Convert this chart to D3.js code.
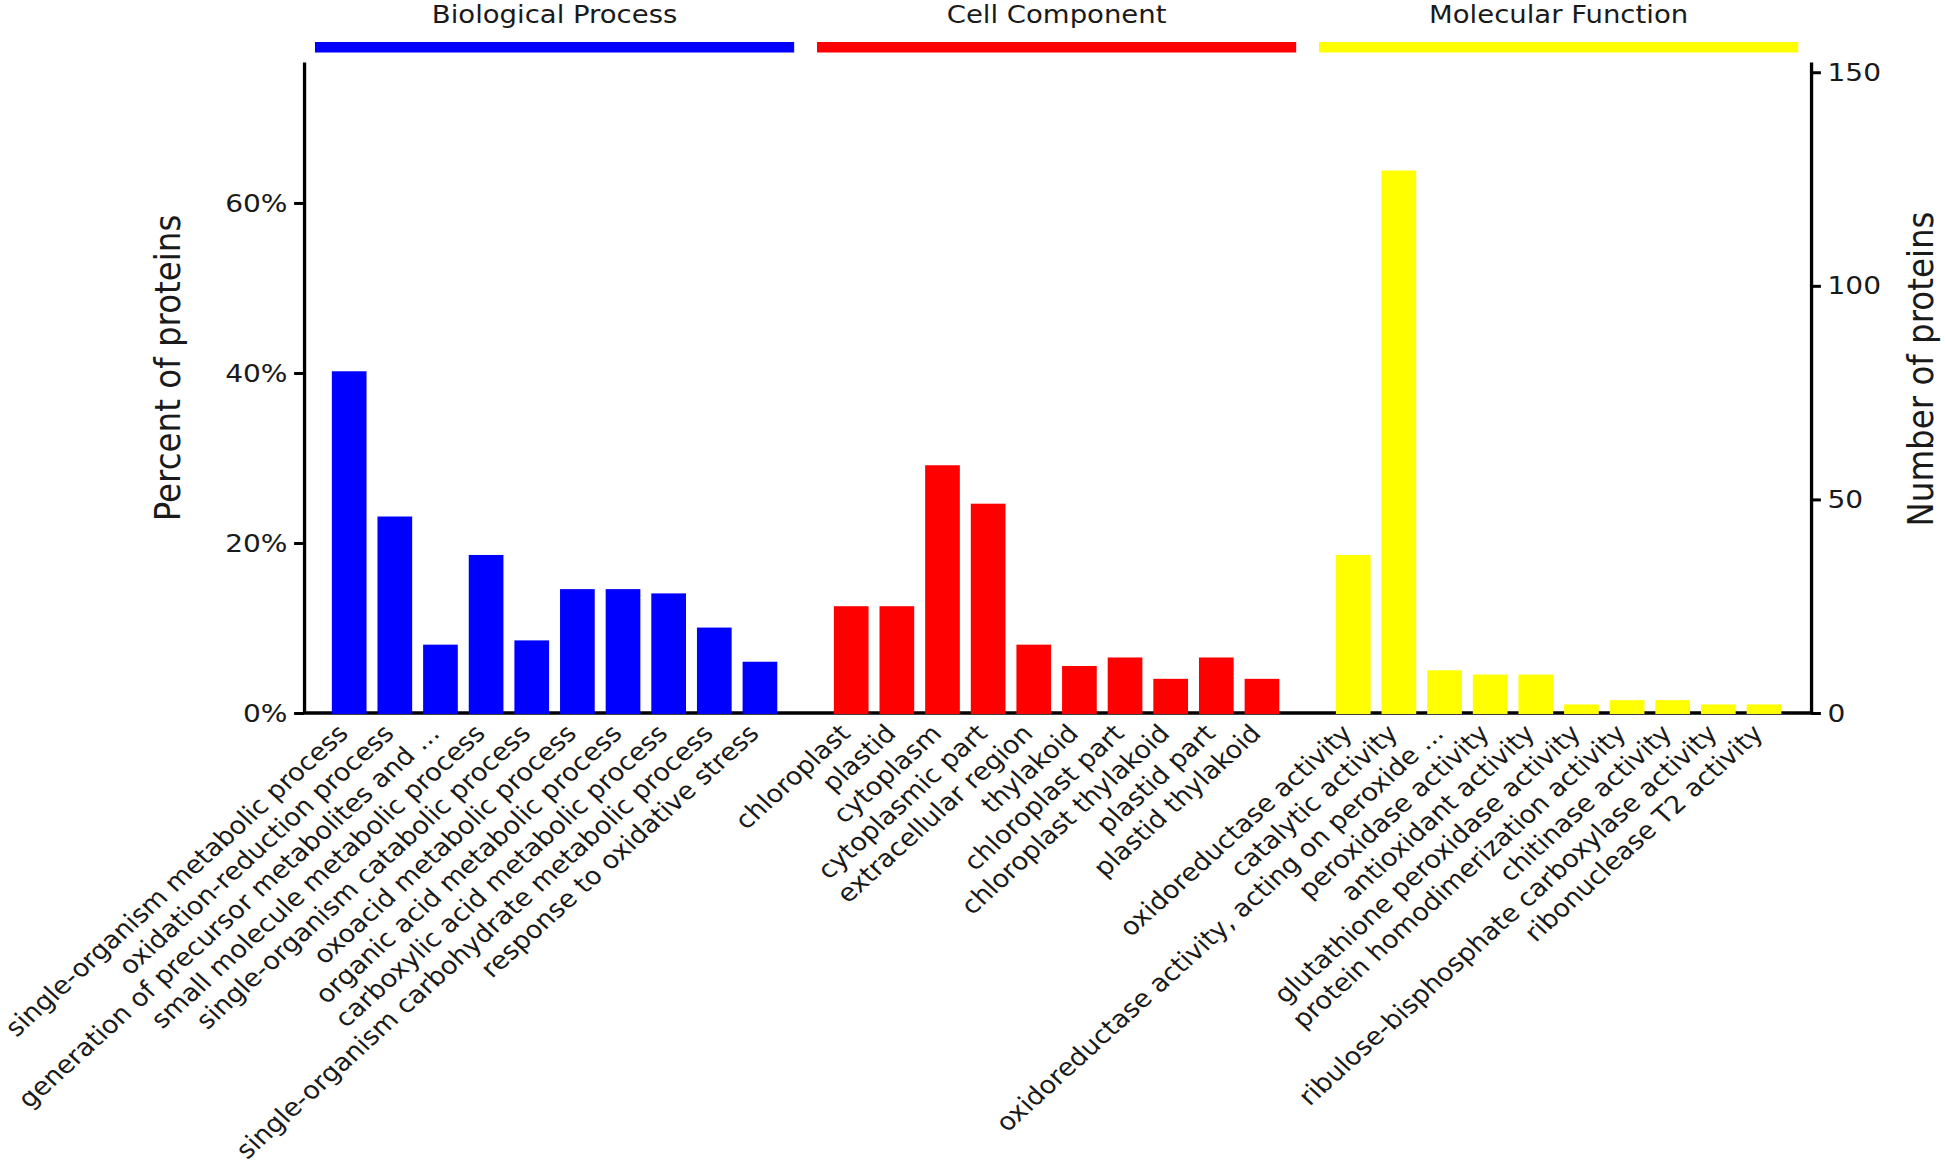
<!DOCTYPE html>
<html>
<head>
<meta charset="utf-8">
<script src="https://cdn.jsdelivr.net/npm/d3@7"></script>
<style>
  html, body { margin: 0; padding: 0; background: #fff; }
  svg { display: block; }
  text { font-family: "DejaVu Sans", sans-serif; fill: #1a1a1a; }
</style>
</head>
<body>
<div id="chart"></div>
<script>
// GO categories, one array per group
var groups = ['Biological Process', 'Cell Component', 'Molecular Function'];
var groupColors = ['#0000ff', '#ff0000', '#ffff00'];

var bpTerms = [
  'single-organism metabolic process',
  'oxidation-reduction process',
  'generation of precursor metabolites and ...',
  'small molecule metabolic process',
  'single-organism catabolic process',
  'oxoacid metabolic process',
  'organic acid metabolic process',
  'carboxylic acid metabolic process',
  'single-organism carbohydrate metabolic process',
  'response to oxidative stress'
];
var bpCounts = [80, 46, 16, 37, 17, 29, 29, 28, 20, 12];

var ccTerms = [
  'chloroplast', 'plastid', 'cytoplasm', 'cytoplasmic part', 'extracellular region',
  'thylakoid', 'chloroplast part', 'chloroplast thylakoid', 'plastid part', 'plastid thylakoid'
];
var ccCounts = [25, 25, 58, 49, 16, 11, 13, 8, 13, 8];

var mfTerms = [
  'oxidoreductase activity',
  'catalytic activity',
  'oxidoreductase activity, acting on peroxide ...',
  'peroxidase activity',
  'antioxidant activity',
  'glutathione peroxidase activity',
  'protein homodimerization activity',
  'chitinase activity',
  'ribulose-bisphosphate carboxylase activity',
  'ribonuclease T2 activity'
];
var mfCounts = [37, 127, 10, 9, 9, 2, 3, 3, 2, 2];

var totalProteins = 199;   // 100% on the left axis
var yMaxCount = 152.4;     // top of both axes, in proteins
var pctTicks = [0, 20, 40, 60];
var countTicks = [0, 50, 100, 150];

// the original figure is stretched sideways, so draw in a narrower box
var W = 1946, H = 1166, K = 1.1;
var vbW = W / K;
var leftX = 304 / K, rightX = 1811 / K;
var baseY = 713, topY = 62;

var termSets = [bpTerms, ccTerms, mfTerms];
var countSets = [bpCounts, ccCounts, mfCounts];

// one empty slot between groups
var bars = [];
termSets.forEach(function(terms, g) {
  terms.forEach(function(t, i) {
    bars.push({ term: t, count: countSets[g][i], group: g, slot: g * 11 + i });
  });
});

var svg = d3.select('#chart').append('svg')
  .attr('width', W)
  .attr('height', H)
  .attr('viewBox', '0 0 ' + vbW + ' ' + H)
  .attr('preserveAspectRatio', 'none');

var x = d3.scaleLinear().domain([-0.99, 32.03]).range([leftX, rightX]);
var yCount = d3.scaleLinear().domain([0, yMaxCount]).range([baseY, topY]);
var yPct = d3.scaleLinear().domain([0, yMaxCount / totalProteins * 100]).range([baseY, topY]);
var barW = 0.76;

// baseline
svg.append('line')
  .attr('x1', leftX).attr('x2', rightX)
  .attr('y1', baseY).attr('y2', baseY)
  .attr('stroke', '#000').attr('stroke-width', 3.5);

svg.append('g').selectAll('rect')
  .data(bars)
  .enter().append('rect')
  .attr('x', function(d) { return x(d.slot - barW / 2); })
  .attr('width', x(barW) - x(0))
  .attr('y', function(d) { return yCount(d.count); })
  .attr('height', function(d) { return yCount(0) - yCount(d.count) + 1; })
  .attr('fill', function(d) { return groupColors[d.group]; });

// category labels
svg.append('g').selectAll('text')
  .data(bars)
  .enter().append('text')
  .attr('transform', function(d) {
    return 'translate(' + (x(d.slot) + 0.5) + ',735) rotate(-45)';
  })
  .attr('text-anchor', 'end')
  .attr('font-size', 24.6)
  .text(function(d) { return d.term; });

// group headers
var heads = svg.append('g').selectAll('g')
  .data(groups)
  .enter().append('g');

heads.append('rect')
  .attr('x', function(d, g) { return x(g * 11 - 0.75); })
  .attr('width', function(d, g) { return x(g * 11 + 9.75) - x(g * 11 - 0.75); })
  .attr('y', 42)
  .attr('height', 10.5)
  .attr('fill', function(d, g) { return groupColors[g]; });

heads.append('text')
  .attr('x', function(d, g) { return x(g * 11 + 4.5); })
  .attr('y', 22.7)
  .attr('text-anchor', 'middle')
  .attr('font-size', 25)
  .text(function(d) { return d; });

// axes
function styleAxis(g) {
  g.select('.domain').attr('stroke', '#000').attr('stroke-width', 3);
  g.selectAll('.tick line').attr('stroke', '#000').attr('stroke-width', 3);
  g.selectAll('.tick text')
    .attr('font-size', 25.5)
    .attr('font-family', '"DejaVu Sans", sans-serif')
    .attr('fill', '#1a1a1a');
}

svg.append('g')
  .attr('transform', 'translate(' + leftX + ',0)')
  .call(d3.axisLeft(yPct)
    .tickValues(pctTicks)
    .tickFormat(function(d) { return d + '%'; })
    .tickSize(9)
    .tickSizeOuter(0)
    .tickPadding(6))
  .call(styleAxis);

svg.append('g')
  .attr('transform', 'translate(' + rightX + ',0)')
  .call(d3.axisRight(yCount)
    .tickValues(countTicks)
    .tickSize(9)
    .tickSizeOuter(0)
    .tickPadding(6))
  .call(styleAxis);

svg.append('text')
  .attr('transform', 'translate(' + (179.5 / K) + ',368) rotate(-90)')
  .attr('text-anchor', 'middle')
  .attr('font-size', 32.5)
  .text('Percent of proteins');

svg.append('text')
  .attr('transform', 'translate(' + (1933 / K) + ',369) rotate(-90)')
  .attr('text-anchor', 'middle')
  .attr('font-size', 32.5)
  .text('Number of proteins');
</script>
</body>
</html>
